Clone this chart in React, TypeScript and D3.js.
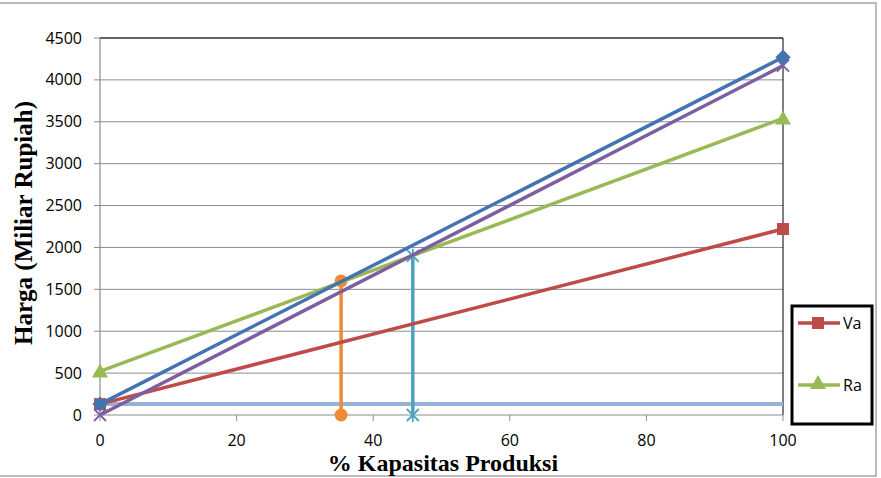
import * as d3 from "d3";

// x positions (% kapasitas) and y values (miliar rupiah)
const xEnds = [0, 100];
const blueVals = [130, 4270];
const vaVals = [130, 2220];
const raVals = [520, 3540];
const purpleVals = [0, 4170];
const baseVals = [130, 130];
const bepX = 35.3;
const bepVals = [0, 1600];
const capX = 45.8;
const capVals = [0, 1900];
const yTicks = [0, 500, 1000, 1500, 2000, 2500, 3000, 3500, 4000, 4500];
const xTicks = [0, 20, 40, 60, 80, 100];

const W = 881;
const H = 478;
const sans = "'Open Sans', 'Liberation Sans', sans-serif";
const serif = "'Liberation Serif', 'DejaVu Serif', serif";

const x = d3.scaleLinear().domain([0, 100]).range([100, 783]);
const y = d3.scaleLinear().domain([0, 4500]).range([415, 38]);

function Marker({ kind, cx, cy, color }: { kind: string; cx: number; cy: number; color: string }) {
  if (kind === "square") return <rect x={cx - 6} y={cy - 6} width={12} height={12} fill={color} />;
  if (kind === "diamond") {
    const p = d3.symbol().type(d3.symbolDiamond2).size(150)();
    return <path d={p!} transform={`translate(${cx},${cy})`} fill={color} />;
  }
  if (kind === "triangle") {
    return <path d={`M${cx},${cy - 8}L${cx + 8},${cy + 6}L${cx - 8},${cy + 6}Z`} fill={color} />;
  }
  if (kind === "circle") return <circle cx={cx} cy={cy} r={6.5} fill={color} />;
  if (kind === "x") {
    return (
      <path d={`M${cx - 6},${cy - 6}L${cx + 6},${cy + 6}M${cx - 6},${cy + 6}L${cx + 6},${cy - 6}`} stroke={color} strokeWidth={1.8} />
    );
  }
  if (kind === "star") {
    return (
      <path
        d={`M${cx - 6},${cy - 6}L${cx + 6},${cy + 6}M${cx - 6},${cy + 6}L${cx + 6},${cy - 6}M${cx},${cy - 7}L${cx},${cy + 7}`}
        stroke={color}
        strokeWidth={1.8}
      />
    );
  }
  return null;
}

export default function App() {
  const line = d3
    .line<[number, number]>()
    .x(d => x(d[0]))
    .y(d => y(d[1]));

  const series = [
    { xs: xEnds, ys: baseVals, color: "#95B3D7", marker: "", w: 4 },
    { xs: [bepX, bepX], ys: bepVals, color: "#F08A35", marker: "circle", w: 3.5 },
    { xs: [capX, capX], ys: capVals, color: "#4BA3C3", marker: "star", w: 3.5 },
    { xs: xEnds, ys: vaVals, color: "#BE4B48", marker: "square", w: 3.5 },
    { xs: xEnds, ys: raVals, color: "#98B954", marker: "triangle", w: 3.5 },
    { xs: xEnds, ys: purpleVals, color: "#7D5FA0", marker: "x", w: 3.5 },
    { xs: xEnds, ys: blueVals, color: "#4473B2", marker: "diamond", w: 3.5 },
  ];

  return (
    <svg width={W} height={H} style={{ position: "absolute", left: 0, top: 0, background: "#fff" }}>
      <rect x={-2} y={3} width={878} height={473} fill="none" stroke="#a6a6a6" strokeWidth={1.5} />

      {/* grid */}
      {yTicks.map(t => (
        <g key={t}>
          {t > 0 && <line x1={x(0)} x2={x(100)} y1={y(t)} y2={y(t)} stroke="#8c8c8c" strokeWidth={1} />}
          <line x1={x(0) - 6} x2={x(0)} y1={y(t)} y2={y(t)} stroke="#8c8c8c" />
          <text x={82} y={y(t)} dy="0.35em" textAnchor="end" fontFamily={sans} fontSize={16} fill="#000">
            {t}
          </text>
        </g>
      ))}
      <line x1={x(0)} x2={x(100)} y1={y(4500)} y2={y(4500)} stroke="#000" strokeWidth={1} />
      <line x1={x(100)} x2={x(100)} y1={y(4500)} y2={y(0)} stroke="#000" strokeWidth={1} />
      <line x1={x(0)} x2={x(0)} y1={y(4500)} y2={y(0)} stroke="#8c8c8c" strokeWidth={1.2} />
      <line x1={x(0)} x2={x(100)} y1={y(0)} y2={y(0)} stroke="#8c8c8c" strokeWidth={1.2} />
      {xTicks.map(t => (
        <g key={t}>
          <line x1={x(t)} x2={x(t)} y1={y(0)} y2={y(0) + 6} stroke="#8c8c8c" />
          <text x={x(t)} y={440} dy="0.35em" textAnchor="middle" fontFamily={sans} fontSize={16} fill="#000">
            {t}
          </text>
        </g>
      ))}

      {/* series */}
      {series.map((s, i) => {
        const pts = s.xs.map((v, j) => [v, s.ys[j]] as [number, number]);
        return (
          <g key={i}>
            <path d={line(pts)!} fill="none" stroke={s.color} strokeWidth={s.w} />
            {s.marker &&
              pts.map((p, j) => <Marker key={j} kind={s.marker} cx={x(p[0])} cy={y(p[1])} color={s.color} />)}
          </g>
        );
      })}

      {/* axis titles */}
      <text
        transform={`translate(23,223) rotate(-90)`}
        textAnchor="middle"
        dy="0.35em"
        fontFamily={serif}
        fontWeight="bold"
        fontSize={25}
      >
        Harga (Miliar Rupiah)
      </text>
      <text x={443} y={463} textAnchor="middle" dy="0.35em" fontFamily={serif} fontWeight="bold" fontSize={24}>
        % Kapasitas Produksi
      </text>

      {/* legend */}
      <rect x={792} y={306} width={80} height={118} fill="#fff" stroke="#000" strokeWidth={3} />
      <line x1={798} x2={840} y1={323} y2={323} stroke="#BE4B48" strokeWidth={3.5} />
      <Marker kind="square" cx={818} cy={323} color="#BE4B48" />
      <text x={843} y={323} dy="0.35em" fontFamily={sans} fontSize={16}>
        Va
      </text>
      <line x1={798} x2={840} y1={385} y2={385} stroke="#98B954" strokeWidth={3.5} />
      <Marker kind="triangle" cx={818} cy={383} color="#98B954" />
      <text x={843} y={385} dy="0.35em" fontFamily={sans} fontSize={16}>
        Ra
      </text>
    </svg>
  );
}
